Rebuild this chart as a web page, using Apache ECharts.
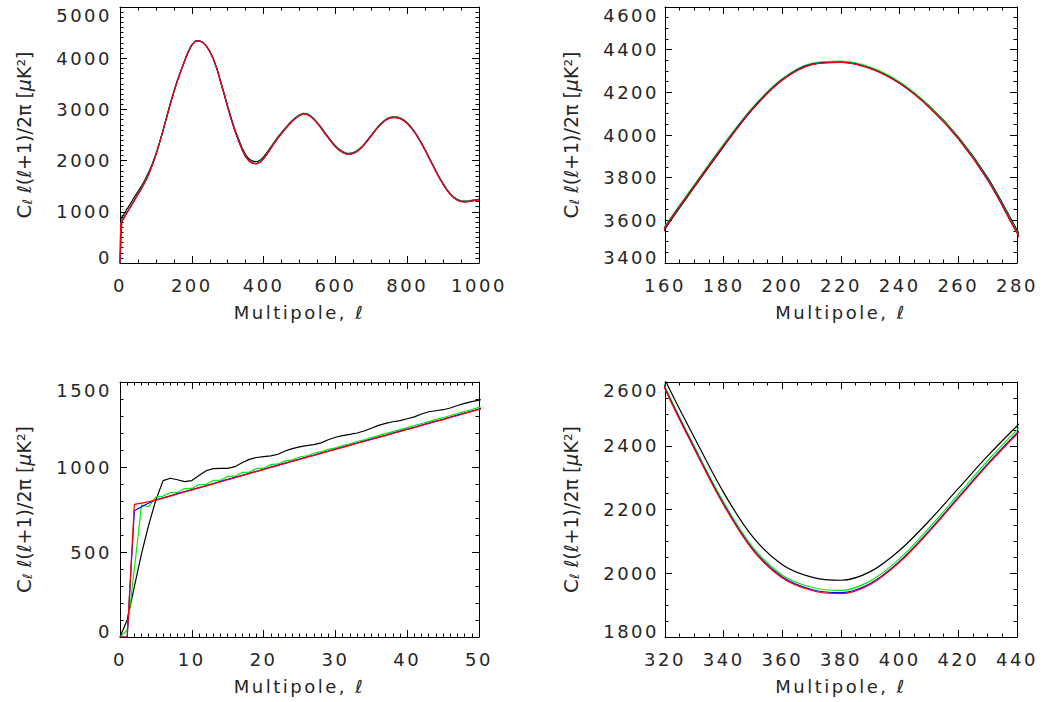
<!DOCTYPE html>
<html>
<head>
<meta charset="utf-8">
<title>CMB power spectra</title>
<script src="https://cdn.jsdelivr.net/npm/echarts@6/dist/echarts.min.js"></script>
<style>
  html, body { margin: 0; padding: 0; background: #ffffff; }
  #chart { width: 1053px; height: 702px; }
</style>
</head>
<body>
<div id="chart"></div>
<script>
// Multipole grid: every multipole up to 50, then every 10 up to 1000
const ELL = [
  0, 1, 2, 3, 4, 5, 6, 7, 8, 9,
  10, 11, 12, 13, 14, 15, 16, 17, 18, 19,
  20, 21, 22, 23, 24, 25, 26, 27, 28, 29,
  30, 31, 32, 33, 34, 35, 36, 37, 38, 39,
  40, 41, 42, 43, 44, 45, 46, 47, 48, 49,
  50,
  60, 70, 80, 90, 100, 110, 120, 130, 140, 150,
  160, 170, 180, 190, 200, 210, 220, 230, 240, 250,
  260, 270, 280, 290, 300, 310, 320, 330, 340, 350,
  360, 370, 380, 390, 400, 410, 420, 430, 440, 450,
  460, 470, 480, 490, 500, 510, 520, 530, 540, 550,
  560, 570, 580, 590, 600, 610, 620, 630, 640, 650,
  660, 670, 680, 690, 700, 710, 720, 730, 740, 750,
  760, 770, 780, 790, 800, 810, 820, 830, 840, 850,
  860, 870, 880, 890, 900, 910, 920, 930, 940, 950,
  960, 970, 980, 990, 1000
];

// C_l l(l+1)/2pi [uK^2] for the four spectra
const CL_BLACK = [
  0, 100, 296, 490, 660, 806, 920, 934, 925, 914,
  920, 950, 978, 990, 992, 992, 1002, 1025, 1045, 1056,
  1061, 1065, 1075, 1094, 1108, 1118, 1126, 1132, 1142, 1160,
  1175, 1185, 1192, 1200, 1212, 1228, 1245, 1257, 1266, 1273,
  1284, 1295, 1312, 1325, 1331, 1337, 1347, 1362, 1374, 1385,
  1393,
  1505, 1630, 1775, 1940, 2130, 2350, 2590, 2845, 3097, 3337,
  3559, 3755, 3946, 4122, 4258, 4330, 4341, 4314, 4246, 4137,
  3991, 3800, 3555, 3315, 3067, 2827, 2608, 2426, 2253, 2113,
  2027, 1988, 1978, 2005, 2072, 2164, 2266, 2368, 2462, 2550,
  2635, 2714, 2786, 2847, 2896, 2923, 2917, 2881, 2820, 2742,
  2653, 2557, 2462, 2372, 2290, 2225, 2177, 2148, 2142, 2158,
  2194, 2250, 2322, 2408, 2500, 2590, 2675, 2747, 2803, 2839,
  2855, 2853, 2835, 2797, 2740, 2665, 2573, 2465, 2345, 2215,
  2077, 1937, 1800, 1670, 1550, 1443, 1355, 1287, 1240, 1215,
  1208, 1213, 1225, 1237, 1245
];

const CL_GREEN = [
  0, 40, 400, 776, 767, 824, 829, 849, 850, 873,
  874, 897, 898, 921, 922, 945, 946, 968, 970, 991,
  993, 1014, 1018, 1036, 1042, 1059, 1066, 1081, 1090, 1104,
  1113, 1126, 1137, 1150, 1160, 1173, 1185, 1196, 1208, 1220,
  1232, 1243, 1256, 1267, 1280, 1290, 1303, 1314, 1327, 1338,
  1351,
  1467, 1596, 1745, 1919, 2118, 2348, 2598, 2858, 3113, 3353,
  3573, 3767, 3957, 4132, 4265, 4336, 4346, 4318, 4248, 4137,
  3989, 3795, 3547, 3305, 3052, 2807, 2586, 2398, 2223, 2081,
  1994, 1956, 1946, 1976, 2046, 2142, 2247, 2353, 2450, 2540,
  2627, 2706, 2779, 2841, 2890, 2918, 2912, 2876, 2814, 2735,
  2645, 2548, 2452, 2362, 2280, 2215, 2167, 2138, 2132, 2148,
  2185, 2242, 2315, 2402, 2495, 2585, 2670, 2742, 2798, 2834,
  2850, 2848, 2830, 2792, 2735, 2660, 2568, 2460, 2340, 2210,
  2072, 1932, 1795, 1665, 1545, 1438, 1350, 1282, 1235, 1210,
  1203, 1208, 1220, 1232, 1240
];

const CL_BLUE = [
  0, 0, 743, 766, 788, 807, 819, 831, 843, 855,
  867, 879, 891, 903, 915, 927, 939, 951, 963, 975,
  987, 999, 1011, 1023, 1035, 1047, 1059, 1070, 1082, 1094,
  1106, 1117, 1129, 1141, 1152, 1164, 1176, 1187, 1199, 1211,
  1223, 1234, 1246, 1258, 1270, 1281, 1293, 1305, 1317, 1329,
  1341,
  1457, 1587, 1737, 1912, 2112, 2342, 2592, 2852, 3107, 3347,
  3567, 3762, 3952, 4127, 4260, 4332, 4342, 4313, 4243, 4132,
  3984, 3790, 3542, 3300, 3047, 2802, 2581, 2393, 2217, 2075,
  1988, 1949, 1939, 1968, 2038, 2133, 2238, 2343, 2440, 2530,
  2617, 2697, 2770, 2832, 2882, 2910, 2904, 2868, 2806, 2727,
  2637, 2540, 2444, 2354, 2272, 2207, 2159, 2130, 2124, 2140,
  2177, 2234, 2307, 2394, 2487, 2577, 2662, 2734, 2790, 2826,
  2842, 2840, 2822, 2784, 2727, 2652, 2560, 2452, 2332, 2202,
  2064, 1924, 1787, 1657, 1537, 1430, 1342, 1274, 1227, 1202,
  1195, 1200, 1212, 1224, 1232
];

const CL_RED = [
  0, 0, 780, 788, 796, 805, 817, 829, 841, 853,
  865, 877, 889, 901, 913, 925, 937, 949, 961, 973,
  985, 997, 1009, 1021, 1033, 1045, 1057, 1068, 1080, 1092,
  1104, 1115, 1127, 1139, 1150, 1162, 1174, 1185, 1197, 1209,
  1221, 1232, 1244, 1256, 1268, 1279, 1291, 1303, 1315, 1327,
  1339,
  1455, 1585, 1735, 1910, 2110, 2340, 2590, 2850, 3105, 3345,
  3565, 3760, 3950, 4125, 4258, 4330, 4340, 4311, 4241, 4130,
  3982, 3788, 3540, 3298, 3045, 2800, 2578, 2390, 2214, 2072,
  1985, 1946, 1936, 1965, 2035, 2130, 2235, 2340, 2437, 2528,
  2615, 2695, 2768, 2830, 2880, 2908, 2902, 2866, 2804, 2725,
  2635, 2538, 2442, 2352, 2270, 2205, 2157, 2128, 2122, 2138,
  2175, 2232, 2305, 2392, 2485, 2575, 2660, 2732, 2788, 2824,
  2840, 2838, 2820, 2782, 2725, 2650, 2558, 2450, 2330, 2200,
  2062, 1922, 1785, 1655, 1535, 1428, 1340, 1272, 1225, 1200,
  1193, 1198, 1210, 1222, 1230
];

// Axis ranges per panel: [min, max, major step, minor divisions]
const X_RANGES = [[0, 1000, 200, 4], [160, 280, 20, 4], [0, 50, 10, 10], [320, 440, 20, 4]];
const Y_RANGES = [[0, 5000, 1000, 10], [3400, 4600, 200, 4], [0, 1500, 500, 5], [1800, 2600, 200, 4]];

const X_TITLE = 'Multipole, ℓ';
const Y_TITLE = '{c|C}{s|ℓ} ℓ(ℓ+1)/2π [{m|μ}K²]';

const SPECTRA = [
  { name: 'black', values: CL_BLACK, color: '#000000' },
  { name: 'green', values: CL_GREEN, color: '#00ee00' },
  { name: 'blue',  values: CL_BLUE,  color: '#0000ff' },
  { name: 'red',   values: CL_RED,   color: '#ff0000' }
];

// ---- layout ----
const FONT = '"DejaVu Sans", "Liberation Sans", sans-serif';
const TEXT = '#262626';
const GRIDS = [
  { left: 120, top: 7,   width: 359, height: 256 },
  { left: 665, top: 7,   width: 352, height: 256 },
  { left: 120, top: 382, width: 359, height: 255 },
  { left: 665, top: 382, width: 352, height: 255 }
];
const SMOOTH = [false, 0.35, false, 0.35];
const Y_LABEL_MARGIN = [8, 6, 8, 6];
const Y_NAME_GAP = [86, 84, 86, 84];

const lineStyle = { color: '#000', width: 1 };

function tickStyle(r) {
  return {
    axisLine: { show: true, onZero: false, lineStyle },
    axisTick: { show: true, inside: true, length: 7, lineStyle },
    minorTick: { show: true, splitNumber: r[3], length: 3.5, lineStyle },
    splitLine: { show: false },
    minorSplitLine: { show: false }
  };
}

const xAxis = [], yAxis = [], series = [];

GRIDS.forEach((g, i) => {
  const xr = X_RANGES[i], yr = Y_RANGES[i];
  ['bottom', 'top'].forEach(pos => {
    const main = pos === 'bottom';
    xAxis.push(Object.assign({
      type: 'value', gridIndex: i, position: pos,
      min: xr[0], max: xr[1], interval: xr[2],
      axisLabel: {
        show: main, margin: 13, color: TEXT, fontSize: 18, fontFamily: FONT,
        formatter: v => String(v)
      },
      name: main ? X_TITLE : '',
      nameLocation: 'middle', nameGap: 40,
      nameTextStyle: { color: TEXT, fontSize: 18, fontFamily: FONT }
    }, tickStyle(xr)));
  });
  ['left', 'right'].forEach(pos => {
    const main = pos === 'left';
    yAxis.push(Object.assign({
      type: 'value', gridIndex: i, position: pos,
      min: yr[0], max: yr[1], interval: yr[2],
      axisLabel: {
        show: main, margin: Y_LABEL_MARGIN[i], color: TEXT, fontSize: 18, fontFamily: FONT,
        formatter: v => v === yr[1] ? '{hi|' + v + '}' : (v === yr[0] ? '{lo|' + v + '}' : '{n|' + v + '}'),
        rich: {
          hi: { fontSize: 18, fontFamily: FONT, color: TEXT, padding: [16, 0, 0, 0] },
          lo: { fontSize: 18, fontFamily: FONT, color: TEXT, padding: [0, 0, 12, 0] },
          n:  { fontSize: 18, fontFamily: FONT, color: TEXT }
        }
      },
      name: main ? Y_TITLE : '',
      nameLocation: 'middle', nameRotate: 90, nameGap: Y_NAME_GAP[i],
      nameTextStyle: {
        color: TEXT, fontSize: 19, fontFamily: FONT,
        rich: {
          c: { fontSize: 20, fontFamily: FONT, color: TEXT },
          s: { fontSize: 13, fontFamily: FONT, color: TEXT, verticalAlign: 'bottom', padding: [7, 0, 0, 0] },
          m: { fontSize: 19, fontFamily: FONT, color: TEXT, fontStyle: 'italic' }
        }
      }
    }, tickStyle(yr)));
  });
  SPECTRA.forEach((s, k) => {
    series.push({
      type: 'line',
      name: s.name,
      xAxisIndex: 2 * i,
      yAxisIndex: 2 * i,
      data: ELL.map((l, j) => [l, s.values[j]]),
      symbol: 'none',
      showSymbol: false,
      smooth: SMOOTH[i],
      clip: true,
      silent: true,
      z: 2 + k,
      lineStyle: { color: s.color, width: 1.2 },
      itemStyle: { color: s.color }
    });
  });
});

const chartEl = document.getElementById('chart');
const chart = echarts.init(chartEl, null, { renderer: 'svg' });

// Widen the tick numbers and the x-axis titles a little, like the stroke font they imitate
function spaceOutLabels() {
  chartEl.querySelectorAll('text').forEach(t => {
    const s = t.textContent;
    if (/^\d+$/.test(s) || s.indexOf('Multipole') === 0) {
      t.style.letterSpacing = '2.5px';
    }
  });
}
chart.on('finished', spaceOutLabels);

chart.setOption({
  animation: false,
  backgroundColor: '#ffffff',
  grid: GRIDS.map(g => Object.assign({ containLabel: false }, g)),
  xAxis, yAxis, series
});
spaceOutLabels();
</script>
</body>
</html>
